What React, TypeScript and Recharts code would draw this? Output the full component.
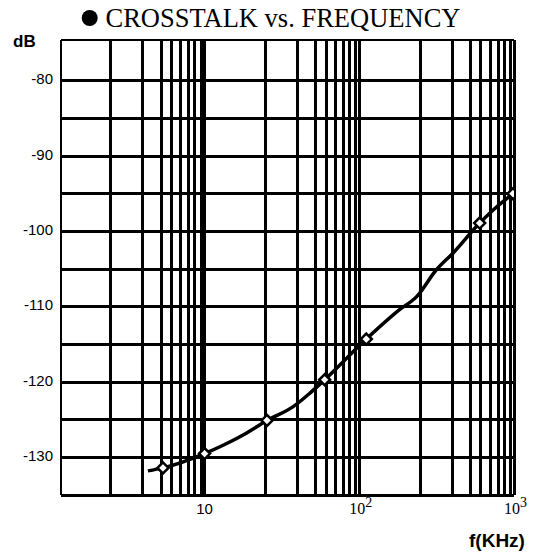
import React from 'react';
import { ComposedChart, Line, Scatter, XAxis, YAxis, ReferenceLine } from 'recharts';

// curve (frequency in kHz, crosstalk in dB)
const CURVE_F = [4.3, 5.38, 10, 13.8, 18.6, 25.3, 37.2, 47.8, 59.7, 111, 182, 234, 315, 403, 600, 731, 985];
const CURVE_DB = [-131.8, -131.4, -129.5, -128.2, -126.8, -125.1, -123.3, -121.5, -119.7, -114.3, -110.4, -108.7, -105.1, -102.9, -98.9, -97.2, -95.0];

// open diamond markers on the curve
const MARKER_F = [5.38, 10, 25.3, 59.7, 111, 600, 985];
const MARKER_DB = [-131.4, -129.5, -125.1, -119.7, -114.3, -98.9, -95.0];

const X_MIN = 1.18;
const X_MAX = 1000;
const Y_MIN = -135;
const Y_MAX = -74.6;

const X_TICKS = [10, 100, 1000];
const Y_TICKS = [-130, -120, -110, -100, -90, -80];
const Y_GRID = [-130, -125, -120, -115, -110, -105, -100, -95, -90, -85, -80];

// minor grid lines per decade, placed where the printed sheet has them
const DECADES = [1, 10, 100];
const MINOR_STEPS = [2.48, 3.99, 5.24, 6.11, 7.01, 7.89, 8.63, 9.51];
const X_GRID = [...DECADES.flatMap(d => MINOR_STEPS.map(m => m * d)), 10, 100];

const curve = CURVE_F.map((f, i) => ({ f, db: CURVE_DB[i] }));
const markers = MARKER_F.map((f, i) => ({ f, db: MARKER_DB[i] }));

const SANS = '"Liberation Sans", Arial, sans-serif';
const SERIF = '"Liberation Serif", "Times New Roman", serif';

function XTick({ x, y, payload }: any) {
  const v = payload.value;
  if (v === 10) {
    return (
      <text x={x} y={y + 19} textAnchor="middle" fontFamily={SANS} fontSize={15} fill="#000">
        10
      </text>
    );
  }
  const exp = Math.round(Math.log10(v));
  return (
    <text x={x - 10} y={y + 19} textAnchor="start" fontFamily={SERIF} fontSize={16} fill="#000">
      10
      <tspan dy={-7} fontSize={14}>{exp}</tspan>
    </text>
  );
}

function YTick({ x, y, payload }: any) {
  return (
    <text x={x} y={y} dy={3.5} textAnchor="end" fontFamily={SANS} fontSize={15} fill="#000">
      {payload.value}
    </text>
  );
}

function Diamond({ cx, cy }: any) {
  const r = 5.5;
  return (
    <polygon
      points={`${cx},${cy - r} ${cx + r},${cy} ${cx},${cy + r} ${cx - r},${cy}`}
      fill="#fff"
      stroke="#000"
      strokeWidth={2.5}
    />
  );
}

// grid/frame line drawn at the scale-computed endpoints
const rule = (w: number) => (p: any) => (
  <line
    x1={p.x1}
    y1={p.y1}
    x2={p.x2}
    y2={p.y2}
    stroke="#000"
    strokeWidth={w}
    shapeRendering="crispEdges"
  />
);

export default function App() {
  return (
    <div style={{ position: 'absolute', left: 0, top: 0, width: 533, height: 560, background: '#fff' }}>
      <ComposedChart width={533} height={560} margin={{ top: 40, right: 19, bottom: 0, left: 0 }}>
        <XAxis
          dataKey="f"
          type="number"
          scale="log"
          domain={[X_MIN, X_MAX]}
          allowDataOverflow
          ticks={X_TICKS}
          tick={<XTick />}
          tickLine={false}
          axisLine={false}
          tickSize={0}
          tickMargin={0}
          height={65}
        />
        <YAxis
          type="number"
          domain={[Y_MIN, Y_MAX]}
          allowDataOverflow
          ticks={Y_TICKS}
          tick={<YTick />}
          tickLine={false}
          axisLine={false}
          tickSize={0}
          tickMargin={8}
          width={61}
        />
        {X_GRID.map(v => (
          <ReferenceLine key={'gx' + v} x={v} shape={rule(3)} />
        ))}
        {Y_GRID.map(v => (
          <ReferenceLine key={'gy' + v} y={v} shape={rule(3)} />
        ))}
        <ReferenceLine x={X_MIN} shape={rule(2)} />
        <ReferenceLine x={X_MAX} shape={rule(3)} />
        <ReferenceLine y={Y_MAX} shape={rule(2)} />
        <ReferenceLine y={Y_MIN} shape={rule(3)} />
        <Line
          data={curve}
          dataKey="db"
          type="monotone"
          stroke="#000"
          strokeWidth={3.5}
          dot={false}
          isAnimationActive={false}
        />
        <Scatter data={markers} dataKey="db" shape={<Diamond />} isAnimationActive={false} />
      </ComposedChart>
      <svg
        width={533}
        height={560}
        style={{ position: 'absolute', left: 0, top: 0, pointerEvents: 'none' }}
      >
        <circle cx={89.7} cy={18} r={8} fill="#000" />
        <text x={105.5} y={26.5} fontFamily={SERIF} fontSize={26.5} fill="#000">
          CROSSTALK vs. FREQUENCY
        </text>
        <text x={13} y={47} fontFamily={SANS} fontWeight="bold" fontSize={17} fill="#000">
          dB
        </text>
        <text x={469} y={547} fontFamily={SANS} fontWeight="bold" fontSize={19} fill="#000">
          f(KHz)
        </text>
      </svg>
    </div>
  );
}
